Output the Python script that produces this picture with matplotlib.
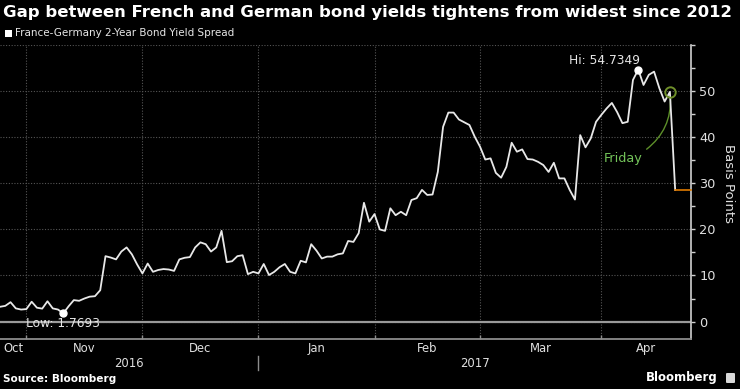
import matplotlib
matplotlib.use('Agg')
import matplotlib.pyplot as plt
import numpy as np
import pandas as pd
from matplotlib.patches import FancyBboxPatch

# ---------------- data ----------------
spread = [
    3.2, 3.4, 4.2, 2.85, 2.6, 2.7, 4.3, 3.0, 2.8, 4.4,
    2.85, 2.6, 1.7693, 3.3, 4.65, 4.5, 5.0, 5.4, 5.5, 6.8,
    14.2, 13.9, 13.5, 15.2, 16.1, 14.6, 12.4, 10.45, 12.6, 10.8,
    11.2, 11.4, 11.3, 11.0, 13.5, 13.85, 14.0, 16.1, 17.2, 16.8,
    15.2, 16.1, 19.7, 12.9, 13.1, 14.2, 14.4, 10.3, 10.8, 10.45,
    12.5, 10.1, 10.8, 11.8, 12.5, 10.8, 10.45, 13.2, 12.85, 16.8,
    15.4, 13.7, 14.1, 14.1, 14.6, 14.8, 17.5, 17.3, 19.2, 25.8,
    21.7, 23.35, 20.0, 19.7, 24.6, 23.1, 23.85, 23.1, 26.4, 26.8,
    28.6, 27.5, 27.6, 32.5, 42.3, 45.4, 45.4, 43.9, 43.3, 42.7,
    40.15, 38.0, 35.2, 35.45, 32.3, 31.25, 33.6, 38.85, 36.9, 37.4,
    35.3, 35.2, 34.7, 34.0, 32.5, 34.5, 31.1, 31.1, 28.6, 26.5,
    40.5, 37.85, 39.8, 43.4, 44.9, 46.3, 47.5, 45.5, 43.1, 43.4,
    52.5, 54.7349, 51.4, 53.6, 54.3, 50.7, 47.8, 49.9, 28.6,
]
start_date = '2016-10-25'
dates = pd.bdate_range(start_date, periods=len(spread))
month_labels = ['Oct', 'Nov', 'Dec', 'Jan', 'Feb', 'Mar', 'Apr']
year_labels = ['2016', '2017']
y_ticks = [0, 10, 20, 30, 40, 50, 60]
y_tick_labels = ['0', '10', '20', '30', '40', '50', '']
friday_index = len(spread) - 2

title = 'Gap between French and German bond yields tightens from widest since 2012'
legend_label = 'France-Germany 2-Year Bond Yield Spread'

# ---------------- figure ----------------
W, H = 740, 389
fig = plt.figure(figsize=(W / 100, H / 100), dpi=100, facecolor='black')
ax_left, ax_right, ax_top, ax_bottom = 0, 691, 45.4, 339
ax = fig.add_axes([ax_left / W, 1 - ax_bottom / H,
                   (ax_right - ax_left) / W, (ax_bottom - ax_top) / H])
ax.set_facecolor('black')

xs = np.arange(len(spread))
xlim = (0.0, 131.0)
ax.set_xlim(*xlim)
ax.set_ylim(-3.8, 60)

# grid
bounds = [i for i in range(1, len(dates)) if dates[i].month != dates[i - 1].month]
ax.set_xticks(bounds)
ax.set_xticklabels([])
ax.set_yticks(y_ticks)
ax.set_yticklabels(y_tick_labels)
ax.set_yticks([5, 15, 25, 35, 45, 55], minor=True)
ax.grid(True, which='major', color='#555555', ls=(0, (1, 1.5)), lw=0.8)
ax.set_axisbelow(True)
ax.axhline(0, color='#9a9a9a', lw=1.6, zorder=2)

# spines / ticks
for s in ['top', 'left']:
    ax.spines[s].set_visible(False)
ax.spines['bottom'].set_color('#8c8c8c')
ax.spines['bottom'].set_linewidth(1.3)
ax.spines['right'].set_color('#d0d0d0')
ax.spines['right'].set_linewidth(1.2)
ax.yaxis.tick_right()
ax.tick_params(axis='y', which='both', direction='out', length=3, width=1,
               color='#d0d0d0', labelcolor='#e0e0e0', labelsize=9.3, pad=3)
ax.tick_params(axis='x', which='both', direction='in', length=3, width=1,
               color='#8c8c8c')

# series
ax.plot(xs, spread, color='#e8e8e8', lw=1.3, zorder=4)
ax.plot([xs[-1], xlim[1]], [spread[-1], spread[-1]], color='#e07b00', lw=1.2, zorder=4,
        clip_on=False)

# hi / low
imax = int(np.argmax(spread))
imin = int(np.argmin(spread))
ax.plot(imax, spread[imax], 'o', color='white', ms=5, zorder=5)
ax.plot(imin, spread[imin], 'o', color='white', ms=5, zorder=5)
ax.annotate(f'Hi: {spread[imax]:.4f}', xy=(imax, spread[imax]), xytext=(1, 6.5),
            textcoords='offset points', ha='right', va='center', color='#e6e6e6', fontsize=8.8)
ax.annotate(f'Low: {spread[imin]:.4f}', xy=(imin, spread[imin]), xytext=(0, -7),
            textcoords='offset points', ha='center', va='center', color='#e6e6e6', fontsize=8.8)

# Friday annotation
ax.plot(friday_index, spread[friday_index], 'o', mfc='none', mec='#6f8f2a', ms=7.5, mew=1.4,
        zorder=6)
ax.annotate('Friday', xy=(friday_index, spread[friday_index]), xytext=(-33.5, -48),
            textcoords='offset points', ha='center', va='center', color='#74c45a', fontsize=9.2,
            arrowprops=dict(arrowstyle='-', color='#5d8f2a', lw=1.0,
                            connectionstyle='arc3,rad=0.3', relpos=(1.0, 1.0),
                            shrinkA=1, shrinkB=4))

# month / year labels
edges = [xlim[0]] + bounds + [xlim[1]]
tr = ax.get_xaxis_transform()
for lab, a, b in zip(month_labels, edges[:-1], edges[1:]):
    ax.text((a + b) / 2, -0.031, lab, transform=tr, ha='center', va='center',
            color='#e0e0e0', fontsize=8.4)
jan = bounds[2]
ax.text((xlim[0] + jan) / 2, -0.082, year_labels[0], transform=tr, ha='center', va='center',
        color='#e0e0e0', fontsize=8.4)
ax.text((jan + xlim[1]) / 2, -0.082, year_labels[1], transform=tr, ha='center', va='center',
        color='#e0e0e0', fontsize=8.4)
ax.plot([jan, jan], [-0.058, -0.106], transform=tr, color='#8c8c8c', lw=1, clip_on=False)

# axis title
ax.text(728 / 691, (ax_bottom - 184) / (ax_bottom - ax_top), 'Basis Points', transform=ax.transAxes,
        rotation=-90, ha='center', va='center', color='#e0e0e0', fontsize=9.5)

# titles and footer
fig.text(3 / W, 1 - 12 / H, title, ha='left', va='center', color='white', fontsize=11.85,
         fontweight='bold')
fig.patches.append(FancyBboxPatch((5 / W, 1 - 36.5 / H), 6.5 / W, 6.5 / H, boxstyle='square,pad=0',
                                  transform=fig.transFigure, fc='white', ec='none'))
fig.text(15 / W, 1 - 33.5 / H, legend_label, ha='left', va='center', color='#e6e6e6', fontsize=7.45)
fig.text(3 / W, 1 - 379 / H, 'Source: Bloomberg', ha='left', va='center', color='white',
         fontsize=7.6, fontweight='bold')
fig.text(718 / W, 1 - 378 / H, 'Bloomberg', ha='right', va='center', color='white',
         fontsize=8.5, fontweight='bold')
fig.patches.append(FancyBboxPatch((726 / W, 1 - 383 / H), 9 / W, 10 / H,
                                  boxstyle='round,pad=0,rounding_size=0.002',
                                  transform=fig.transFigure, fc='#d8d8d8', ec='none'))

fig.savefig('out.png', dpi=100, facecolor='black')
